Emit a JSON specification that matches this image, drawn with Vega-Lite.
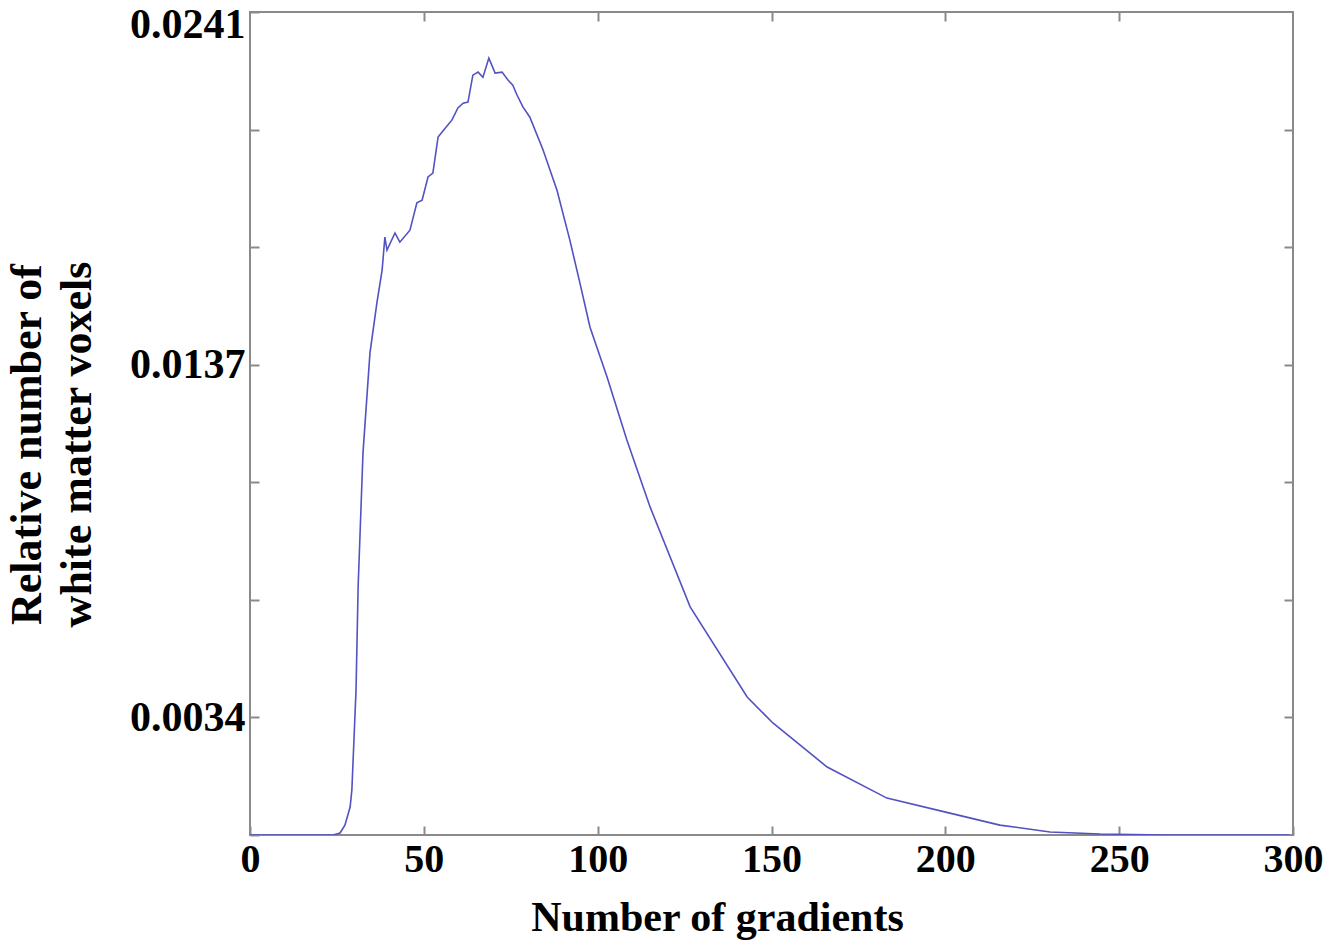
{
  "$schema": "https://vega.github.io/schema/vega-lite/v6.json",
  "width": 1043,
  "height": 823,
  "autosize": {"type": "none"},
  "padding": {"left": 250, "top": 12, "right": 48, "bottom": 105},
  "background": "white",
  "config": {
    "view": {"stroke": "#8a8a8a", "strokeWidth": 2},
    "axis": {
      "labelFont": "Liberation Serif",
      "labelFontWeight": "bold",
      "labelFontSize": 40,
      "labelColor": "black",
      "titleFont": "Liberation Serif",
      "titleFontWeight": "bold",
      "titleFontSize": 42,
      "titleColor": "black",
      "domain": false,
      "grid": false,
      "tickColor": "#8a8a8a",
      "tickWidth": 2,
      "tickSize": -9
    }
  },
  "data": {
    "values": [
      {"g": 0, "v": 0},
      {"g": 20.1, "v": 0},
      {"g": 23.9, "v": 0},
      {"g": 25.9, "v": 0.00006},
      {"g": 27.3, "v": 0.00029},
      {"g": 28.8, "v": 0.00082},
      {"g": 29.3, "v": 0.00132},
      {"g": 29.9, "v": 0.00278},
      {"g": 30.5, "v": 0.00425},
      {"g": 31.1, "v": 0.00726},
      {"g": 32.5, "v": 0.01119},
      {"g": 34.5, "v": 0.01411},
      {"g": 36.5, "v": 0.01558},
      {"g": 38.0, "v": 0.01654},
      {"g": 38.8, "v": 0.01751},
      {"g": 39.4, "v": 0.01713},
      {"g": 41.7, "v": 0.01763},
      {"g": 43.1, "v": 0.01736},
      {"g": 46.0, "v": 0.01771},
      {"g": 48.0, "v": 0.01851},
      {"g": 49.5, "v": 0.01859},
      {"g": 51.2, "v": 0.01927},
      {"g": 52.6, "v": 0.01938},
      {"g": 54.1, "v": 0.02044},
      {"g": 55.2, "v": 0.02058},
      {"g": 58.1, "v": 0.02094},
      {"g": 59.8, "v": 0.02129},
      {"g": 61.3, "v": 0.02143},
      {"g": 62.7, "v": 0.02146},
      {"g": 64.1, "v": 0.02225},
      {"g": 65.6, "v": 0.02234},
      {"g": 67.0, "v": 0.02219},
      {"g": 68.7, "v": 0.02275},
      {"g": 70.5, "v": 0.02231},
      {"g": 72.5, "v": 0.02234},
      {"g": 74.2, "v": 0.02211},
      {"g": 75.6, "v": 0.02196},
      {"g": 76.8, "v": 0.02167},
      {"g": 78.5, "v": 0.02132},
      {"g": 80.5, "v": 0.02102},
      {"g": 84.3, "v": 0.02006},
      {"g": 88.3, "v": 0.01888},
      {"g": 92.0, "v": 0.01742},
      {"g": 94.9, "v": 0.01616},
      {"g": 97.8, "v": 0.01487},
      {"g": 102.7, "v": 0.01341},
      {"g": 108.4, "v": 0.01157},
      {"g": 115.1, "v": 0.0096},
      {"g": 126.6, "v": 0.00668},
      {"g": 143.0, "v": 0.00404},
      {"g": 150.4, "v": 0.00328},
      {"g": 166.0, "v": 0.00199},
      {"g": 183.2, "v": 0.00108},
      {"g": 201.3, "v": 0.00064},
      {"g": 215.7, "v": 0.00029},
      {"g": 230.1, "v": 0.00009},
      {"g": 244.5, "v": 0.00003},
      {"g": 263.8, "v": 0},
      {"g": 299, "v": 0}
    ]
  },
  "layer": [
    {
      "mark": {"type": "line", "color": "#5252c2", "strokeWidth": 1.6, "clip": true},
      "encoding": {
        "x": {
          "field": "g", "type": "quantitative",
          "scale": {"domain": [0, 300], "nice": false, "zero": false},
          "axis": {
            "orient": "bottom",
            "values": [0, 50, 100, 150, 200, 250, 300],
            "labelFlush": false,
            "labelPadding": 13,
            "title": "Number of gradients",
            "titleX": 467,
            "titleY": 95,
            "titleAnchor": null,
            "titleBaseline": "alphabetic",
            "titleAlign": "center"
          }
        },
        "y": {
          "field": "v", "type": "quantitative",
          "scale": {"domain": [0, 0.0241], "nice": false, "zero": false},
          "axis": {
            "orient": "left",
            "values": [0, 0.003443, 0.006886, 0.010329, 0.013771, 0.017214, 0.020657, 0.0241],
            "labelExpr": "datum.value > 0.0240 ? '0.0241' : (datum.value > 0.0136 && datum.value < 0.0139) ? '0.0137' : (datum.value > 0.0033 && datum.value < 0.0036) ? '0.0034' : ''",
            "labelFlush": true,
            "labelFlushOffset": 8,
            "labelFontSize": 42,
            "labelPadding": 14,
            "title": ["Relative number of", "white matter voxels"],
            "titleFontSize": 44,
            "titleLineHeight": 50,
            "titleX": -210,
            "titleY": 432,
            "titleAngle": -90,
            "titleAlign": "center",
            "titleBaseline": "alphabetic"
          }
        }
      }
    },
    {
      "mark": {"type": "line", "strokeOpacity": 0},
      "encoding": {
        "x": {
          "field": "g", "type": "quantitative",
          "axis": {"orient": "top", "values": [50, 100, 150, 200, 250], "labels": false, "title": null}
        },
        "y": {
          "field": "v", "type": "quantitative",
          "axis": {"orient": "right", "values": [0.003443, 0.006886, 0.010329, 0.013771, 0.017214, 0.020657], "labels": false, "title": null}
        }
      }
    }
  ],
  "resolve": {"axis": {"x": "independent", "y": "independent"}}
}
